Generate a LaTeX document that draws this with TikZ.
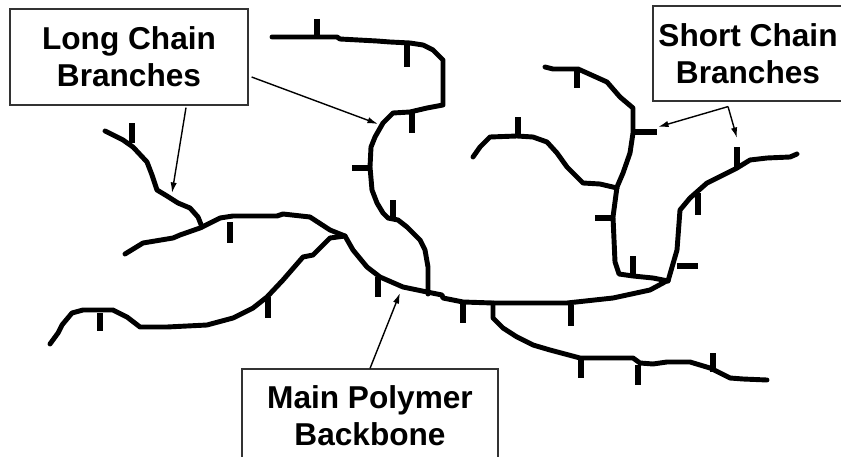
\documentclass[tikz,border=0pt]{standalone}
\usepackage{fontspec}
\setmainfont{Liberation Sans}
\usetikzlibrary{arrows.meta,calc}
\begin{document}
\begin{tikzpicture}[x=0.02cm,y=-0.02cm,
  chain/.style={line width=2.8pt,line join=round,line cap=round},
  stub/.style={line width=3.4pt,line cap=butt},
  labelbox/.style={draw=black!80,line width=0.7pt,fill=white,inner sep=0pt,align=center,
    font=\fontsize{18}{21}\selectfont\bfseries},
  pointer/.style={line width=0.8pt,-{Latex[length=6pt,width=3.6pt]}}]
\path[use as bounding box] (0,0) rectangle (841,456);

% backbone with the upper-left long branch
\draw[chain] (125,254) -- (143,243) -- (173,238) -- (180,235) -- (200,228) -- (220,218)
  -- (233,216) -- (277,216) -- (283,214) -- (310,217) -- (330,230) -- (345,236)
  -- (353,250) -- (367,267) -- (380,277) -- (403,287) -- (427,292) -- (442,295)
  -- (443,298) -- (463,302) -- (493,303) -- (567,303) -- (613,298) -- (650,290)
  -- (663,283) -- (668,280);
% lower-left long branch
\draw[chain] (50,344) -- (58,333) -- (62,325) -- (72,313) -- (83,310) -- (113,310)
  -- (127,317) -- (140,327) -- (167,327) -- (207,325) -- (233,318) -- (253,308)
  -- (267,297) -- (283,280) -- (303,257) -- (313,255) -- (330,238) -- (345,236);
% top-left branch
\draw[chain] (105,131) -- (123,140) -- (133,147) -- (147,162) -- (152,175) -- (157,190)
  -- (167,196) -- (178,203) -- (190,208) -- (198,217) -- (202,227);
% top long branch
\draw[chain] (428,294) -- (428,267) -- (425,250) -- (420,240) -- (413,233) -- (407,227)
  -- (398,220) -- (388,218) -- (383,213) -- (377,203) -- (372,190) -- (370,167)
  -- (371,147) -- (375,137) -- (383,123) -- (393,113) -- (410,112) -- (427,108)
  -- (443,105) -- (443,60) -- (433,50) -- (423,45) -- (410,43) -- (390,42)
  -- (377,41) -- (340,39) -- (337,37) -- (317,37) -- (272,37);
% right loop, left side
\draw[chain] (545,67) -- (553,69) -- (578,69) -- (587,73) -- (607,82) -- (620,97)
  -- (633,108) -- (633,133) -- (630,153) -- (623,173) -- (617,187) -- (613,217)
  -- (615,262) -- (619,274) -- (633,276) -- (653,278) -- (668,281);
% right branch
\draw[chain] (668,281) -- (677,250) -- (680,210) -- (690,198) -- (707,183) -- (723,175)
  -- (737,168) -- (750,160) -- (767,158) -- (790,157) -- (797,154);
% middle branch
\draw[chain] (473,157) -- (480,147) -- (490,137) -- (517,136) -- (533,137) -- (547,142)
  -- (557,153) -- (567,167) -- (577,177) -- (583,183) -- (600,184) -- (617,188);
% lower branch
\draw[chain] (493,303) -- (493,318) -- (503,328) -- (517,337) -- (533,345) -- (550,350)
  -- (580,358) -- (633,358) -- (640,363) -- (653,364) -- (667,362) -- (690,362)
  -- (710,368) -- (730,378) -- (743,379) -- (767,380);

% short side groups
\foreach \a/\b/\c/\d in {132/123/132/143, 230/222/230/243, 100/313/100/331,
  268/297/268/318, 378/277/378/297, 463/303/463/323, 571/305/571/326,
  317/19/317/37, 407/43/407/67, 412/113/412/133, 352/168/371/168,
  393/200/393/220, 577/67/577/88, 518/117/518/137, 633/132/657/132,
  595/218/613/218, 698/193/698/215, 737/147/737/168, 633/256/633/276,
  677/266/698/266, 581/358/581/378, 638/365/638/385, 713/353/713/372}
  \draw[stub] (\a,\b) -- (\c,\d);

% labels
\node[labelbox,minimum width=4.76cm,minimum height=1.92cm] (lc) at (129,57) {Long Chain\\Branches};
\node[labelbox,minimum width=3.8cm,minimum height=1.9cm] (sc) at (748,53.5) {Short Chain\\Branches};
\node[labelbox,minimum width=5.12cm,minimum height=1.86cm] (mp) at (370,415.5) {Main Polymer\\Backbone};

% pointer targets
\coordinate (lcT1) at (378,124);
\coordinate (lcT2) at (172,193);
\coordinate (scT1) at (658,127);
\coordinate (scT2) at (737,138);
\coordinate (mpT) at (400,293);

\draw[pointer] ($(lc.east)+(3,20)$) -- (lcT1);
\draw[pointer] ($(lc.south)+(57,2)$) -- (lcT2);
\draw[pointer] ($(sc.south)+(-20,5)$) -- (scT1);
\draw[pointer] ($(sc.south)+(-20,5)$) -- (scT2);
\draw[pointer] (mp.north) -- (mpT);
\end{tikzpicture}
\end{document}
